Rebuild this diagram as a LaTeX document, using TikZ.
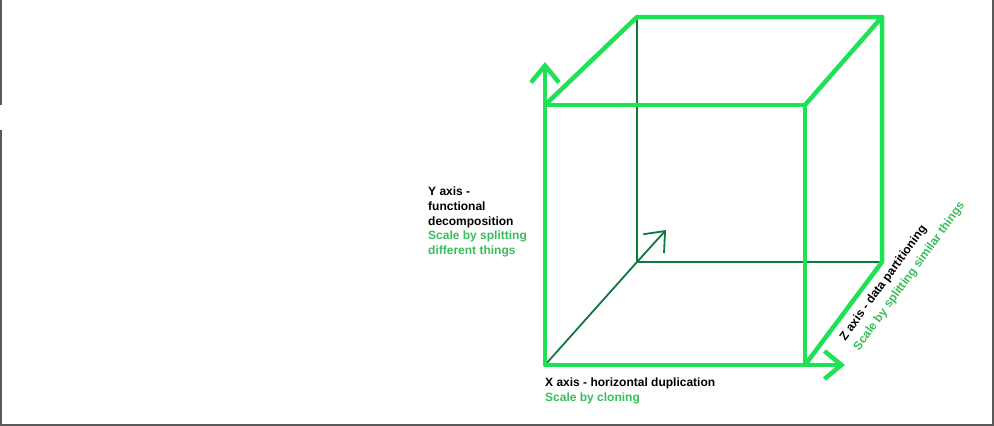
\documentclass[tikz,border=0pt]{standalone}
\usepackage{fontspec}
\setmainfont{Liberation Sans}
\usetikzlibrary{arrows.meta}
\definecolor{cubegreen}{RGB}{30,225,85}
\definecolor{edgedark}{RGB}{15,120,60}
\definecolor{labelgreen}{RGB}{55,190,90}
\tikzset{>={Straight Barb[length=17pt,width=28pt]}}

\begin{document}
\begin{tikzpicture}[x=1pt, y=-1pt,
  bright/.style={draw=cubegreen, line width=4.5pt, line cap=round, line join=round},
  hidden/.style={draw=edgedark, line width=1.8pt, line cap=round},
  axislabel/.style={font=\fontsize{12}{14.6}\selectfont\bfseries, align=left, inner sep=0pt}]
\useasboundingbox (0,0) rectangle (994,426);
% screen frame
\draw[gray!70!black, line width=2pt] (1,0) -- (1,105) (1,130) -- (1,425) -- (993,425) -- (993,0);
% cube corners
\coordinate (ftl) at (545,105);
\coordinate (ftr) at (805,105);
\coordinate (fbr) at (805,365);
\coordinate (fbl) at (545,365);
\coordinate (btl) at (637,17);
\coordinate (btr) at (882,17);
\coordinate (bbr) at (882,262);
\coordinate (bbl) at (637,262);
% axis tips
\coordinate (ytip) at (545,62);
\coordinate (xtip) at (845,365);
\coordinate (ztip) at (666,230);
% hidden edges
\draw[hidden] (fbl) -- (bbl);
\draw[hidden] (btl) -- (bbl) -- (bbr);
\draw[hidden, ->] (bbl) -- (ztip);
% visible edges
\draw[bright] (ftl) -- (ftr) -- (fbr) -- (fbl) -- cycle;
\draw[bright] (ftl) -- (btl) -- (btr) -- (ftr);
\draw[bright] (btr) -- (bbr) -- (fbr);
\draw[bright, ->] (ftl) -- (ytip);
\draw[bright, ->] (fbr) -- (xtip);
% labels
\node[axislabel, anchor=north west] (ylabel) at (428,187)
  {Y axis -\\functional\\decomposition\\\textcolor{labelgreen}{Scale by splitting}\\\textcolor{labelgreen}{different things}};
\node[axislabel, anchor=north west] (xlabel) at (545,378)
  {X axis - horizontal duplication\\\textcolor{labelgreen}{Scale by cloning}};
\node[axislabel, anchor=north west, rotate=54, font=\fontsize{12}{17}\selectfont\bfseries] (zlabel) at (838,336)
  {Z axis - data partitioning\\\textcolor{labelgreen}{Scale by splitting similar things}};
\end{tikzpicture}
\end{document}
